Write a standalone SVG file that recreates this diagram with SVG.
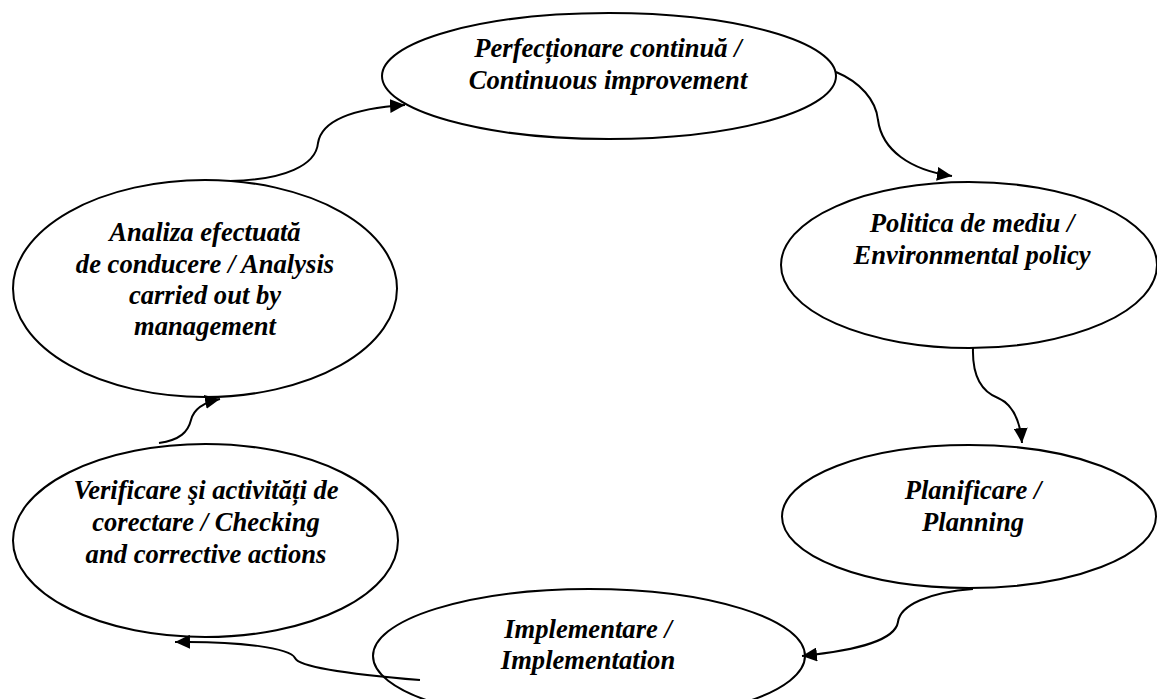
<svg xmlns="http://www.w3.org/2000/svg" width="1157" height="699" viewBox="0 0 1157 699">
<style>
.node{fill:#fff;stroke:#000;stroke-width:2}
.lbl{font-family:"Liberation Serif","Times New Roman",serif;font-weight:bold;font-style:italic;font-size:26.6px;fill:#000;text-anchor:middle}
.conn{fill:none;stroke:#000;stroke-width:2;marker-end:url(#arr)}
</style>
<defs>
<marker id="arr" markerUnits="userSpaceOnUse" markerWidth="16" markerHeight="14" refX="15" refY="7" orient="auto">
<path d="M0,0 L15,7 L0,14 Z" fill="#000"/>
</marker>
</defs>
<rect width="1157" height="699" fill="#fff"/>
<g id="n-perfectionare">
<ellipse class="node" cx="609" cy="76" rx="227" ry="63"/>
<text class="lbl" x="608" y="57">Perfecționare continuă /</text>
<text class="lbl" x="608" y="89">Continuous improvement</text>
</g>
<g id="n-politica">
<ellipse class="node" cx="969" cy="265" rx="188" ry="83"/>
<text class="lbl" x="972" y="232">Politica de mediu /</text>
<text class="lbl" x="972" y="264">Environmental policy</text>
</g>
<g id="n-planificare">
<ellipse class="node" cx="969" cy="516.5" rx="187" ry="71.5"/>
<text class="lbl" x="973" y="499">Planificare /</text>
<text class="lbl" x="973" y="531">Planning</text>
</g>
<g id="n-implementare">
<ellipse class="node" cx="589" cy="656" rx="216" ry="67"/>
<text class="lbl" x="588" y="638">Implementare /</text>
<text class="lbl" x="588" y="669">Implementation</text>
</g>
<g id="n-verificare">
<ellipse class="node" cx="205.5" cy="540.5" rx="192.5" ry="96.5"/>
<text class="lbl" x="206" y="499">Verificare şi activități de</text>
<text class="lbl" x="206" y="531">corectare / Checking</text>
<text class="lbl" x="206" y="563">and corrective actions</text>
</g>
<g id="n-analiza">
<ellipse class="node" cx="205" cy="288.5" rx="192" ry="108.5"/>
<text class="lbl" x="205" y="241">Analiza efectuată</text>
<text class="lbl" x="205" y="273">de conducere / Analysis</text>
<text class="lbl" x="205" y="304">carried out by</text>
<text class="lbl" x="205" y="335">management</text>
</g>
<g id="connectors">
<path class="conn" d="M836,72 C860,82 876,100 878,120 C882,150 910,170 952,176"/>
<path class="conn" d="M973,348 C972,380 985,393 998,398 C1012,404 1020,420 1022,443"/>
<path class="conn" d="M973,589 C930,592 900,605 898,622 C895,640 860,650 802,656"/>
<path class="conn" d="M420,680 C383,677 300,670 295,658 C290,648 240,641 175,642"/>
<path class="conn" d="M159,443 C180,440 188,432 191,420 C194,408 205,402 220,399"/>
<path class="conn" d="M230,181 C285,180 316,165 318,143 C322,118 360,108 405,105"/>
</g>
</svg>
